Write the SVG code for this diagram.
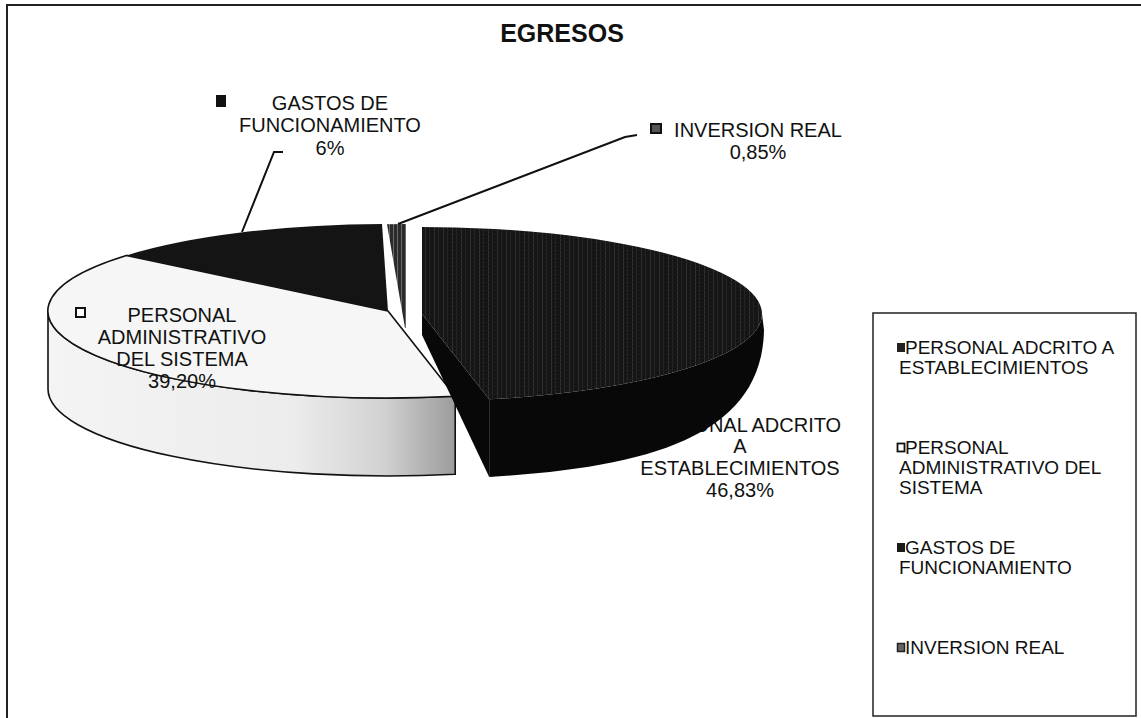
<svg xmlns="http://www.w3.org/2000/svg" width="1141" height="718" viewBox="0 0 1141 718">
<style>
  text { font-family: "Liberation Sans", Arial, sans-serif; fill: #111; }
  .lbl { font-size: 20px; text-anchor: middle; }
  .leg { font-size: 19px; }
  .title { font-size: 25px; font-weight: bold; text-anchor: middle; }
  .lead { fill: none; stroke: #111; stroke-width: 2; }
  .outline { stroke: #111; stroke-width: 1.6; }
</style>
<defs>
  <pattern id="darkTex" width="9" height="4" patternUnits="userSpaceOnUse">
    <rect width="9" height="4" fill="#141414"/>
    <rect x="2" width="1" height="4" fill="#333333"/>
    <rect x="6" width="1" height="4" fill="#252525"/>
    <rect y="2" width="9" height="1" fill="#1c1c1c"/>
  </pattern>
  <pattern id="invTex" width="4" height="3" patternUnits="userSpaceOnUse">
    <rect width="4" height="3" fill="#2a2a2a"/>
    <rect x="1" width="1" height="3" fill="#6a6a6a"/>
  </pattern>
  <linearGradient id="whiteSide" x1="48" y1="0" x2="457" y2="0" gradientUnits="userSpaceOnUse">
    <stop offset="0" stop-color="#f4f4f4"/>
    <stop offset="0.6" stop-color="#ececec"/>
    <stop offset="0.82" stop-color="#d2d2d2"/>
    <stop offset="1" stop-color="#9a9a9a"/>
  </linearGradient>
</defs>
<rect width="1141" height="718" fill="#ffffff"/>
<rect x="7" y="5" width="1140" height="720" fill="none" stroke="#222" stroke-width="2"/>
<text class="title" x="562" y="42">EGRESOS</text>

<g id="label-adcrito">
  <text class="lbl" x="740" y="432">PERSONAL ADCRITO</text>
  <text class="lbl" x="740" y="453">A</text>
  <text class="lbl" x="740" y="475">ESTABLECIMIENTOS</text>
  <text class="lbl" x="740" y="497">46,83%</text>
</g>

<g id="slice-personal-administrativo">
  <path class="outline" d="M455.2,396.3 A340,87 0 0 1 48,311 L48,389 A340,87 0 0 0 455.2,474.3 Z" fill="url(#whiteSide)"/>
  <path class="outline" d="M388,311 L455.2,396.3 A340,87 0 0 1 126.4,255.4 Z" fill="#f6f6f6"/>
</g>
<g id="slice-gastos">
  <path d="M388,311 L126.4,255.4 A340,87 0 0 1 382,224 Z" fill="#141414"/>
</g>
<g id="slice-inversion">
  <path d="M405,328 L387,224.3 A340,87 0 0 1 406,224 L406,328 Z" fill="url(#invTex)"/>
</g>
<g id="slice-personal-adcrito">
  <path d="M762,314 A340,87 0 0 1 489.2,399.3 L489.2,477 C655,467 762,434 764,330 Z" fill="#080808"/>
  <path d="M422,314 L489.2,399.3 L489.2,477 L422,335 Z" fill="#080808"/>
  <path d="M422,314 L422,227 A340,87 0 0 1 762,314 A340,87 0 0 1 489.2,399.3 Z" fill="url(#darkTex)"/>
</g>

<g id="connectors">
  <path class="lead" d="M283,152 L274,152 L242,232"/>
  <path class="lead" d="M637,135 L625,137 L398,224"/>
</g>

<g id="label-gastos">
  <rect x="216" y="95" width="10" height="12" fill="#111"/>
  <text class="lbl" x="330" y="110">GASTOS DE</text>
  <text class="lbl" x="330" y="132">FUNCIONAMIENTO</text>
  <text class="lbl" x="330" y="155">6%</text>
</g>
<g id="label-inversion">
  <rect x="651" y="124" width="10" height="9" fill="#555" stroke="#111" stroke-width="2"/>
  <text class="lbl" x="758" y="137">INVERSION REAL</text>
  <text class="lbl" x="758" y="159">0,85%</text>
</g>
<g id="label-administrativo">
  <rect x="76" y="308" width="9" height="9" fill="#fff" stroke="#111" stroke-width="2"/>
  <text class="lbl" x="182" y="322">PERSONAL</text>
  <text class="lbl" x="182" y="344">ADMINISTRATIVO</text>
  <text class="lbl" x="182" y="366">DEL SISTEMA</text>
  <text class="lbl" x="182" y="388">39,20%</text>
</g>

<g id="legend">
  <rect x="873" y="313" width="263" height="403" fill="#fff" stroke="#222" stroke-width="1.5"/>
  <rect x="897" y="343" width="8" height="9" fill="#222"/>
  <text class="leg" x="905" y="354">PERSONAL ADCRITO A</text>
  <text class="leg" x="899" y="374">ESTABLECIMIENTOS</text>
  <rect x="897.5" y="443.5" width="7" height="8" fill="#fff" stroke="#111" stroke-width="1.8"/>
  <text class="leg" x="905" y="454">PERSONAL</text>
  <text class="leg" x="899" y="474">ADMINISTRATIVO DEL</text>
  <text class="leg" x="899" y="494">SISTEMA</text>
  <rect x="897" y="543" width="8" height="9" fill="#1a1a1a"/>
  <text class="leg" x="905" y="554">GASTOS DE</text>
  <text class="leg" x="899" y="574">FUNCIONAMIENTO</text>
  <rect x="897.5" y="643.5" width="7" height="8" fill="#666" stroke="#222" stroke-width="1.5"/>
  <text class="leg" x="905" y="654">INVERSION REAL</text>
</g>
</svg>
